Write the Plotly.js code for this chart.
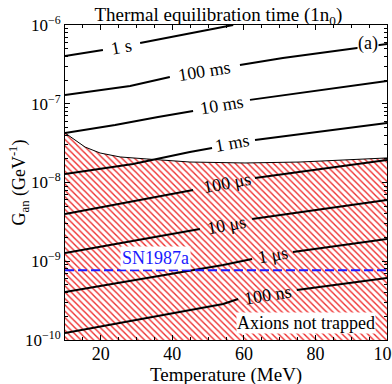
<!DOCTYPE html>
<html>
<head>
<meta charset="utf-8">
<script src="https://cdn.plot.ly/plotly-3.0.1.min.js"></script>
<style>html,body{margin:0;padding:0;background:#fff}#chart{width:392px;height:384px}</style>
</head>
<body>
<div id="chart"></div>
<script>
// ---- data ----
const contourNames = ["1 s", "100 ms", "10 ms", "1 ms", "100 μs", "10 μs", "1 μs", "100 ns"];
const T_1s    = [10, 20.6, null, 31.0, 57.0];
const G_1s    = [4.04e-7, 4.82e-7, null, 5.91e-7, 1.0e-6];
const T_100ms = [10, 28.2, 39.3, null, 58.9, 70.9, 100];
const G_100ms = [1.29e-7, 1.68e-7, 2.19e-7, null, 3.10e-7, 3.81e-7, 5.74e-7];
const T_10ms  = [10, 24.0, 36.0, 45.8, null, 61.7, 75.7, 100];
const G_10ms  = [4.26e-8, 5.37e-8, 6.79e-8, 8.10e-8, null, 1.12e-7, 1.37e-7, 1.95e-7];
const T_1ms   = [10, 29.0, 44.9, 51.1, null, 63.1, 100];
const G_1ms   = [1.28e-8, 1.72e-8, 2.44e-8, 2.74e-8, null, 3.47e-8, 5.70e-8];
const T_100us = [10, 45.8, null, 63.1, 100];
const G_100us = [3.98e-9, 8.03e-9, null, 1.14e-8, 1.93e-8];
const T_10us  = [10, 47.7, null, 62.3, 100];
const G_10us  = [1.27e-9, 2.57e-9, null, 3.44e-9, 6.00e-9];
const T_1us   = [10, 54.2, 62.3, null, 73.7, 100];
const G_1us   = [4.07e-10, 8.95e-10, 1.07e-9, null, 1.31e-9, 1.92e-9];
const T_100ns = [10, 54.2, 58.4, null, 74.8, 100];
const G_100ns = [1.23e-10, 2.87e-10, 3.32e-10, null, 4.32e-10, 6.12e-10];

const labelT = [25.7, 49.1, 53.9, 56.7, 55.3, 55.2, 68.1, 66.7];
const labelG = [5.33e-7, 2.61e-7, 9.64e-8, 3.15e-8, 9.86e-9, 2.88e-9, 1.20e-9, 3.72e-10];

// not-trapped region boundary
const boundaryT = [10, 15.6, 19.8, 25.4, 32.9, 44.9, 60.3, 75.7, 100];
const boundaryG = [4.26e-8, 2.82e-8, 2.37e-8, 2.11e-8, 1.99e-8, 1.82e-8, 1.77e-8, 1.82e-8, 2.05e-8];

const snT = [10, 100];
const snG = [7.7e-10, 7.7e-10];

const xTicks = [20, 40, 60, 80, 100];
const yTicks = [1e-10, 1e-9, 1e-8, 1e-7, 1e-6];
const yTickText = ["10<sup>−10</sup>", "10<sup>−9</sup>", "10<sup>−8</sup>", "10<sup>−7</sup>", "10<sup>−6</sup>"];

const xRange = [10, 100];
const yRange = [1e-10, 1e-6];

// ---- styles ----
const labelAngles = [-10.5, -9, -9.5, -10, -10.5, -10.5, -10, -9];
const FONT = "Liberation Serif, Times New Roman, serif";

const contourT = [T_1s, T_100ms, T_10ms, T_1ms, T_100us, T_10us, T_1us, T_100ns];
const contourG = [G_1s, G_100ms, G_10ms, G_1ms, G_100us, G_10us, G_1us, G_100ns];

const traces = [];
traces.push({
  x: boundaryT.concat([xRange[1], xRange[0]]),
  y: boundaryG.concat([yRange[0], yRange[0]]),
  type: "scatter", mode: "lines", fill: "toself",
  fillcolor: "white",
  fillpattern: {shape: "\\", fgcolor: "#ee2a2a", bgcolor: "white", size: 4.5, solidity: 0.3},
  line: {width: 0}, hoverinfo: "skip", showlegend: false
});
traces.push({
  x: boundaryT, y: boundaryG, type: "scatter", mode: "lines",
  line: {color: "black", width: 1}, showlegend: false
});
contourT.forEach((t, i) => {
  traces.push({
    x: t, y: contourG[i], type: "scatter", mode: "lines",
    line: {color: "black", width: 2}, connectgaps: false, showlegend: false
  });
});
traces.push({
  x: snT, y: snG, type: "scatter", mode: "lines",
  line: {color: "#1a1aff", width: 2, dash: "9px,4px"}, showlegend: false
});

const annotations = contourNames.map((n, i) => ({
  x: labelT[i], y: Math.log10(labelG[i]), xref: "x", yref: "y",
  xanchor: "center", yanchor: "middle",
  text: n, showarrow: false, textangle: labelAngles[i],
  font: {family: FONT, size: 18, color: "black"}
}));
annotations.push({
  x: 0.94, y: 0.94, xref: "paper", yref: "paper", xanchor: "center", yanchor: "middle",
  text: "(a)", showarrow: false, borderpad: 0,
  bgcolor: "white", font: {family: FONT, size: 18, color: "black"}
});
annotations.push({
  x: 0.748, y: 0.054, xref: "paper", yref: "paper", xanchor: "center", yanchor: "middle",
  text: "Axions not trapped", showarrow: false, borderpad: 0,
  bgcolor: "white", font: {family: FONT, size: 18, color: "black"}
});
annotations.push({
  x: 0.28, y: 0.26, xref: "paper", yref: "paper", xanchor: "center", yanchor: "middle",
  text: "SN1987a", showarrow: false, borderpad: 1,
  bgcolor: "white", font: {family: FONT, size: 18, color: "#1a1aff"}
});
annotations.push({
  x: -0.143, y: 0.5, xref: "paper", yref: "paper", xanchor: "center", yanchor: "middle",
  text: "G<sub>an</sub> (GeV<sup>-1</sup>)", showarrow: false, textangle: -90,
  font: {family: FONT, size: 18, color: "black"}
});
annotations.push({
  x: 0.5, y: -(375 - 340) / (340 - 25), xref: "paper", yref: "paper", xanchor: "center", yanchor: "middle",
  text: "Temperature (MeV)", showarrow: false,
  font: {family: FONT, size: 19, color: "black"}
});

const minorY = [];
for (let e = -10; e < -6; e++) for (let k = 2; k <= 9; k++) minorY.push(k * Math.pow(10, e));

const layout = {
  width: 392, height: 384,
  margin: {l: 65, r: 5, t: 25, b: 44},
  paper_bgcolor: "white", plot_bgcolor: "white",
  font: {family: FONT, size: 18, color: "black"},
  title: {text: "Thermal equilibration time (1n<sub>0</sub>)", x: 0.557, xref: "container",
          xanchor: "center", y: 0.962, yref: "container", yanchor: "middle",
          font: {family: FONT, size: 19, color: "black"}},
  xaxis: {
    range: xRange, tickmode: "array", tickvals: xTicks, showgrid: false, zeroline: false,
    showline: true, linecolor: "black", linewidth: 1, mirror: "allticks",
    ticks: "inside", ticklen: 5, tickcolor: "black", ticklabelstandoff: -3,
    ticklabeloverflow: "allow",
    minor: {ticks: "inside", ticklen: 3, dtick: 5, tick0: 0, tickcolor: "black"},
    tickfont: {family: FONT, size: 18, color: "black"}
  },
  yaxis: {
    type: "log", range: [-10, -6], tickmode: "array", tickvals: yTicks, ticktext: yTickText,
    showgrid: false, zeroline: false,
    showline: true, linecolor: "black", linewidth: 1, mirror: "allticks",
    ticks: "inside", ticklen: 5, tickcolor: "black",
    minor: {ticks: "inside", ticklen: 3, tickvals: minorY, tickcolor: "black"},
    tickfont: {family: FONT, size: 17, color: "black"}
  },
  annotations: annotations,
  showlegend: false
};

Plotly.newPlot("chart", traces, layout, {staticPlot: true, displayModeBar: false});
</script>
</body>
</html>
